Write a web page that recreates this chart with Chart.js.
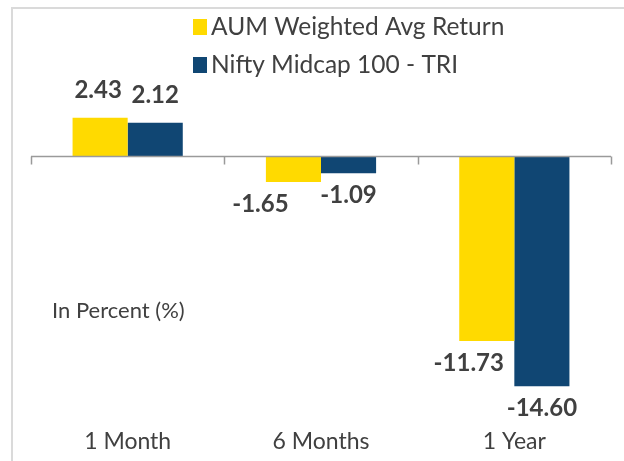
<!DOCTYPE html>
<html>
<head>
<meta charset="utf-8">
<script src="https://cdn.jsdelivr.net/npm/chart.js@4.4.0/dist/chart.umd.min.js"></script>
<style>
  html, body { margin: 0; padding: 0; background: #fff; overflow: hidden; }
  #frame { position: absolute; left: 11px; top: 7px; width: 700px; height: 600px;
           border-top: 2px solid #dadada; border-left: 2px solid #dadada; }
  #wrap { position: absolute; left: 0; top: 0; width: 624px; height: 461px; }
</style>
</head>
<body>
<div id="frame"></div>
<div id="wrap"><canvas id="chart"></canvas></div>
<script>
// chart data
const categories = ['1 Month', '6 Months', '1 Year'];
const seriesNames = ['AUM Weighted Avg Return', 'Nifty Midcap 100 - TRI'];
const aumReturn = [2.43, -1.65, -11.73];
const niftyReturn = [2.12, -1.09, -14.60];
const unitNote = 'In Percent (%)';

const YELLOW = '#FFDA00';
const BLUE = '#104673';
const TEXT = '#404040';
const FONT = 'Lato, "Noto Sans", sans-serif';

// zero axis line with category tick marks
const zeroAxis = {
    id: 'zeroAxis',
    afterDatasetsDraw(chart) {
        const { ctx, chartArea, scales } = chart;
        const y0 = Math.round(scales.y.getPixelForValue(0)) + 0.5;
        const step = (chartArea.right - chartArea.left) / chart.data.labels.length;
        ctx.save();
        ctx.strokeStyle = '#9a9a9a';
        ctx.lineWidth = 1.5;
        ctx.beginPath();
        ctx.moveTo(chartArea.left, y0);
        ctx.lineTo(chartArea.right, y0);
        for (let i = 0; i <= chart.data.labels.length; i++) {
            const x = Math.round(chartArea.left + i * step) + 0.5;
            ctx.moveTo(x, y0);
            ctx.lineTo(x, y0 + 8);
        }
        ctx.stroke();
        ctx.restore();
    }
};

// value labels, legend and unit note
const annotations = {
    id: 'annotations',
    afterDraw(chart, args, opts) {
        const { ctx } = chart;
        ctx.save();
        ctx.fillStyle = TEXT;
        ctx.textAlign = 'center';
        ctx.textBaseline = 'middle';
        ctx.font = 'bold 24px ' + FONT;
        chart.data.datasets.forEach((ds, di) => {
            chart.getDatasetMeta(di).data.forEach((bar, i) => {
                const v = ds.data[i];
                const dx = opts.shiftX[di][i];
                const y = v >= 0 ? bar.y - 27 : bar.y + 22;
                ctx.fillText(v.toFixed(2), bar.x + dx, y);
            });
        });

        // legend
        ctx.textAlign = 'left';
        ctx.font = '24.5px ' + FONT;
        chart.data.datasets.forEach((ds, di) => {
            const cy = 27 + di * 38;
            ctx.fillStyle = ds.backgroundColor;
            ctx.fillRect(193, cy - 8, 14, 16);
            ctx.fillStyle = TEXT;
            ctx.fillText(ds.label, 211, cy);
        });

        ctx.font = '22px ' + FONT;
        ctx.fillText(unitNote, 52, 311);
        ctx.restore();
    }
};

new Chart(document.getElementById('chart'), {
    type: 'bar',
    data: {
        labels: categories,
        datasets: [
            { label: seriesNames[0], data: aumReturn, backgroundColor: YELLOW },
            { label: seriesNames[1], data: niftyReturn, backgroundColor: BLUE }
        ]
    },
    options: {
        responsive: true,
        maintainAspectRatio: false,
        animation: false,
        events: [],
        categoryPercentage: 0.57,
        barPercentage: 1,
        layout: { padding: { left: 31, right: 13, top: 93, bottom: 0 } },
        plugins: {
            legend: { display: false },
            tooltip: { enabled: false },
            annotations: { shiftX: [[-2, -33, -18], [0, 0, 0]] }
        },
        scales: {
            x: {
                grid: { display: false, drawTicks: false },
                border: { display: false },
                ticks: { color: TEXT, font: { family: FONT, size: 23 }, padding: 4 },
                afterFit(scale) { scale.height = 37; }
            },
            y: {
                display: false,
                min: -17,
                max: 4
            }
        }
    },
    plugins: [zeroAxis, annotations]
});
</script>
</body>
</html>
